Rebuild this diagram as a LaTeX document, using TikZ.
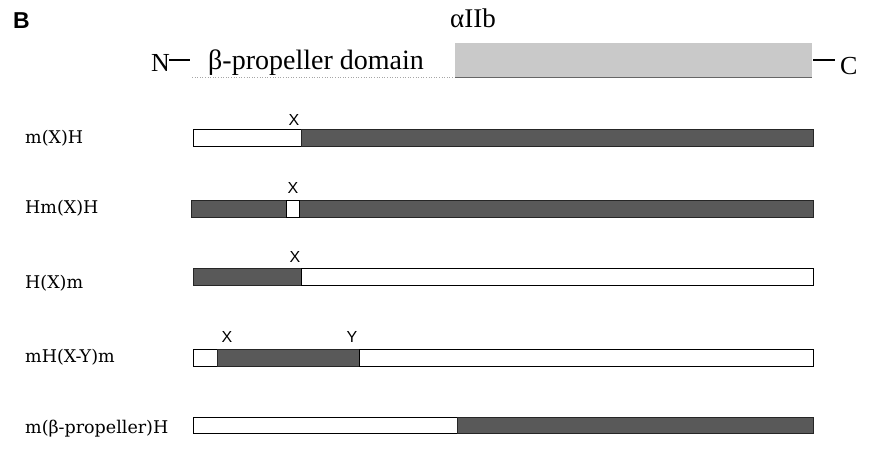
\documentclass[tikz,border=0pt]{standalone}
\usepackage{fontspec}
\setmainfont{Liberation Serif}
\newfontfamily\labelfont{DejaVu Serif}
\newfontfamily\markfont{Liberation Sans}
\begin{document}
\begin{tikzpicture}[x=1pt,y=-1pt,
  darkseg/.style={fill=black!65, draw=black!85, line width=0.8pt},
  lightseg/.style={fill=white, draw=black, line width=0.8pt},
  rowlabel/.style={anchor=base west, inner sep=0pt, font=\labelfont\fontsize{17.5}{17.5}\selectfont},
  sitemark/.style={inner sep=0pt, font=\markfont\fontsize{16}{16}\selectfont},
  headtext/.style={anchor=base west, inner sep=0pt},
  termdash/.style={line width=2pt}]
\useasboundingbox (0,0) rectangle (882,449);

% panel letter
\node[headtext, font=\markfont\bfseries\fontsize{23}{23}\selectfont] (panel) at (13,29) {B};

% alpha IIb domain header
\node[headtext, font=\fontsize{27}{27}\selectfont] (chain) at (450,28) {αIIb};
\node[headtext, font=\fontsize{26}{26}\selectfont] (nterm) at (151,72) {N};
\coordinate (ndashA) at (169,60);
\coordinate (ndashB) at (190,60);
\draw[termdash] (ndashA) -- (ndashB);
\node[headtext, font=\fontsize{28}{28}\selectfont] (prop) at (208,70) {β-propeller domain};
\draw[black!35, line width=0.6pt, dotted] (192,77.5) -- (455,77.5);
\fill[black!21] (455,43) rectangle (812,77);
\draw[black!60, line width=0.8pt] (455,77) -- (812,77);
\coordinate (cdashA) at (813,60);
\coordinate (cdashB) at (835,60);
\draw[termdash] (cdashA) -- (cdashB);
\node[headtext, font=\fontsize{26}{26}\selectfont] (cterm) at (840,75) {C};

% row 1: m(X)H
\node[rowlabel] (lab1) at (25,144) {m(X)H};
\draw[lightseg] (193,129) rectangle (301,146);
\draw[darkseg] (301,129) rectangle (813,146);
\node[sitemark] (x1) at (294,120) {X};

% row 2: Hm(X)H
\node[rowlabel] (lab2) at (25,213) {Hm(X)H};
\draw[darkseg] (191,200) rectangle (813,217);
\draw[lightseg] (286,200) rectangle (299,217);
\node[sitemark] (x2) at (293,188) {X};

% row 3: H(X)m
\node[rowlabel] (lab3) at (25,288) {H(X)m};
\draw[darkseg] (193,268) rectangle (301,285);
\draw[lightseg] (301,268) rectangle (813,285);
\node[sitemark] (x3) at (295,257) {X};

% row 4: mH(X-Y)m
\node[rowlabel] (lab4) at (25,362) {mH(X-Y)m};
\draw[lightseg] (193,349) rectangle (217,366);
\draw[darkseg] (217,349) rectangle (359,366);
\draw[lightseg] (359,349) rectangle (813,366);
\node[sitemark] (x4) at (227,337) {X};
\node[sitemark] (y4) at (352,337) {Y};

% row 5: m(beta-propeller)H
\node[rowlabel] (lab5) at (25,433) {m(β-propeller)H};
\draw[lightseg] (193,417) rectangle (457,433);
\draw[darkseg] (457,417) rectangle (813,433);
\end{tikzpicture}
\end{document}
